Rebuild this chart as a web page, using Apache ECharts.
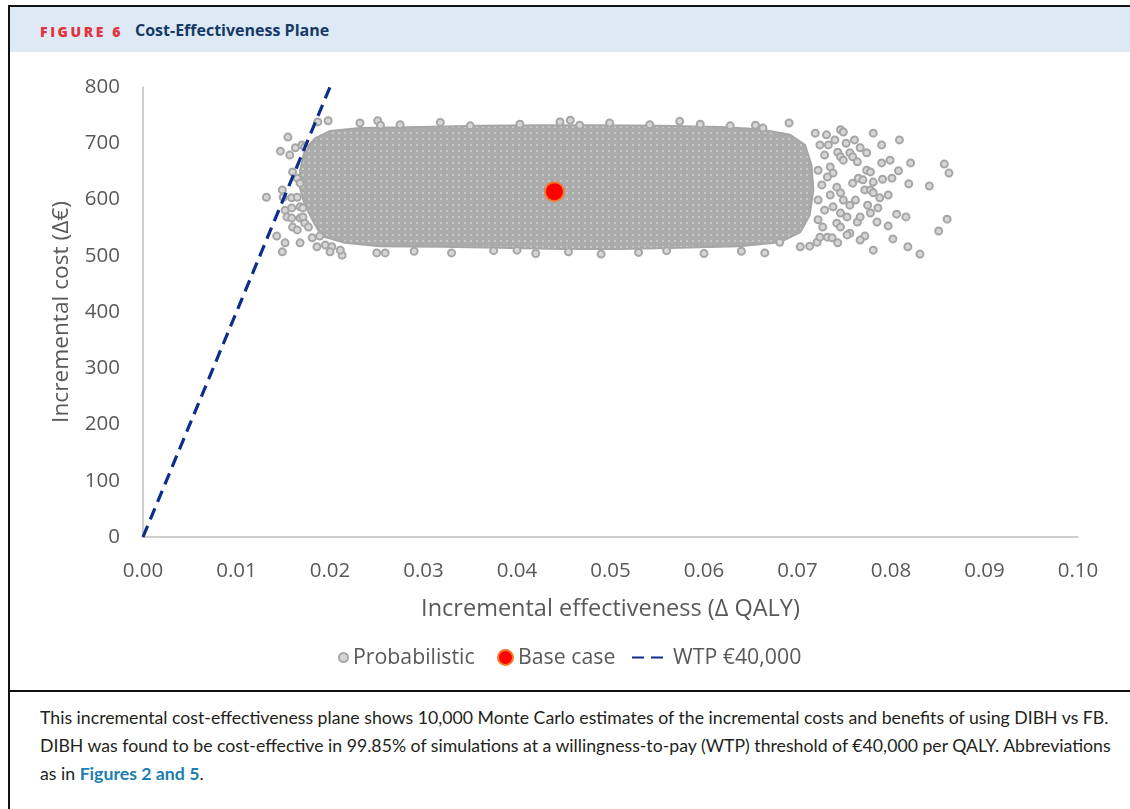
<!DOCTYPE html>
<html>
<head>
<meta charset="utf-8">
<script src="https://cdn.jsdelivr.net/npm/echarts@6/dist/echarts.min.js"></script>
<style>
  body { margin: 0; width: 1130px; height: 809px; background: #fff; position: relative; overflow: hidden; font-family: 'Open Sans', sans-serif; }
  .vline { position: absolute; left: 8px; top: 5px; width: 2px; height: 804px; background: #111; }
  .hline { position: absolute; left: 8px; width: 1122px; height: 2px; background: #111; }
  #head { position: absolute; left: 10px; top: 7px; width: 1120px; height: 45px; background: #dde9f5; }
  #head .fig { position: absolute; left: 30px; top: 15px; color: #e2343f; font-weight: 800; font-size: 14px; letter-spacing: 2.6px; }
  #head .ttl { position: absolute; left: 125px; top: 12px; color: #163a66; font-weight: 700; font-size: 16px; }
  #chart { position: absolute; left: 0; top: 52px; width: 1130px; height: 638px; }
  #caption { position: absolute; left: 40px; top: 704px; width: 1085px; white-space: nowrap; font-family: 'Lato', sans-serif; font-size: 17.7px; line-height: 28px; color: #231f20; }
  #caption b { color: #1b7db3; }
</style>
</head>
<body>
<div class="vline"></div>
<div class="hline" style="top:5px"></div>
<div id="head"><span class="fig">FIGURE 6</span><span class="ttl">Cost-Effectiveness Plane</span></div>
<div id="chart"></div>
<div class="hline" style="top:690px"></div>
<div id="caption">This incremental cost-effectiveness plane shows 10,000 Monte Carlo estimates of the incremental costs and benefits of using DIBH vs FB.<br>DIBH was found to be cost-effective in 99.85% of simulations at a willingness-to-pay (WTP) threshold of €40,000 per QALY. Abbreviations<br>as in <b>Figures 2 and 5</b>.</div>
<script>
// outline of the dense part of the cloud (ΔQALY, Δ€)
var coreOutline = [
  [0.0168, 652], [0.0173, 688], [0.0184, 709], [0.0200, 722], [0.0232, 727],
  [0.0296, 729], [0.0360, 731], [0.0425, 732], [0.0489, 732], [0.0553, 731],
  [0.0617, 729], [0.0660, 725], [0.0692, 715], [0.0708, 697], [0.0715, 661],
  [0.0717, 617], [0.0713, 572], [0.0703, 542], [0.0681, 524], [0.0638, 517],
  [0.0574, 514], [0.0510, 512], [0.0446, 512], [0.0382, 514], [0.0318, 516],
  [0.0253, 517], [0.0216, 523], [0.0191, 535], [0.0184, 555], [0.0173, 590],
  [0.0168, 620]
];

// simulations outside the dense core
var looseLeft = [
  [0.0155, 711], [0.0147, 686], [0.0157, 679], [0.0163, 692], [0.0170, 697],
  [0.0173, 693], [0.0187, 738], [0.0198, 740], [0.0132, 604], [0.0149, 617],
  [0.0150, 604], [0.0159, 603], [0.0165, 604], [0.0152, 581], [0.0159, 585],
  [0.0168, 587], [0.0171, 585], [0.0154, 569], [0.0159, 567], [0.0168, 567],
  [0.0171, 569], [0.0160, 551], [0.0165, 546], [0.0173, 558], [0.0177, 551],
  [0.0143, 535], [0.0181, 532], [0.0189, 535], [0.0152, 523], [0.0168, 523],
  [0.0149, 507], [0.0186, 516], [0.0195, 519], [0.0202, 516], [0.0213, 501],
  [0.0211, 510], [0.0232, 736], [0.0251, 740], [0.0254, 732], [0.0200, 507],
  [0.0250, 505], [0.0259, 505], [0.0160, 649], [0.0165, 638], [0.0168, 629]
];
var looseEdge = [
  [0.0275, 733], [0.0318, 737], [0.0350, 731], [0.0403, 734], [0.0446, 738],
  [0.0457, 741], [0.0467, 732], [0.0499, 736], [0.0542, 733], [0.0574, 739],
  [0.0596, 734], [0.0628, 731], [0.0290, 508], [0.0330, 505], [0.0375, 509],
  [0.0400, 510], [0.0420, 504], [0.0455, 507], [0.0490, 503], [0.0530, 506],
  [0.0560, 509], [0.0600, 504], [0.0640, 508], [0.0665, 505]
];
var looseRight = [
  [0.0781, 718], [0.0809, 706], [0.0790, 665], [0.0808, 651], [0.0821, 665],
  [0.0857, 663], [0.0862, 647], [0.0819, 628], [0.0841, 624], [0.0791, 636],
  [0.0801, 638], [0.0806, 574], [0.0816, 569], [0.0797, 553], [0.0860, 565],
  [0.0851, 544], [0.0802, 530], [0.0818, 516], [0.0831, 503], [0.0781, 510],
  [0.0772, 535], [0.0785, 560], [0.0788, 603], [0.0781, 631], [0.0774, 683],
  [0.0746, 724], [0.0749, 720], [0.0752, 700], [0.0719, 718], [0.0731, 715],
  [0.0691, 736], [0.0655, 732], [0.0663, 727], [0.0681, 524], [0.0703, 516],
  [0.0713, 517], [0.0721, 524], [0.0743, 523], [0.0732, 533], [0.0737, 532],
  [0.0756, 540], [0.0753, 537], [0.0764, 560], [0.0767, 569], [0.0775, 590],
  [0.0778, 576], [0.0786, 585], [0.0772, 617], [0.0778, 617], [0.0781, 612],
  [0.0759, 629], [0.0765, 638], [0.0770, 635], [0.0756, 683], [0.0759, 676],
  [0.0764, 667], [0.0774, 652], [0.0778, 649], [0.0743, 684], [0.0746, 676],
  [0.0749, 670], [0.0735, 658], [0.0738, 647], [0.0732, 640], [0.0742, 622],
  [0.0746, 612], [0.0749, 599], [0.0738, 587], [0.0746, 576], [0.0753, 569],
  [0.0742, 558], [0.0746, 551], [0.0727, 551], [0.0724, 533], [0.0724, 697],
  [0.0729, 679], [0.0722, 652], [0.0726, 626], [0.0722, 599], [0.0729, 581],
  [0.0722, 564], [0.0735, 608], [0.0733, 697], [0.0740, 706], [0.0761, 706],
  [0.0767, 692], [0.0762, 599], [0.0756, 590], [0.0767, 528], [0.0790, 697],
  [0.0797, 608], [0.0799, 670]
];
var baseCase = [[0.0440, 614]];
var wtpLine = [[0, 0], [0.02, 800]];

var xTicks = ['0.00', '0.01', '0.02', '0.03', '0.04', '0.05', '0.06', '0.07', '0.08', '0.09', '0.10'];

// texture for the dense cloud, small grey rings
var tile = document.createElement('canvas');
tile.width = 6; tile.height = 6;
var tctx = tile.getContext('2d');
tctx.fillStyle = '#ababab';
tctx.fillRect(0, 0, 6, 6);
tctx.fillStyle = '#cfcfcf';
tctx.beginPath(); tctx.arc(3, 3, 1.1, 0, Math.PI * 2); tctx.fill();

var grey = '#595959';
var chart = echarts.init(document.getElementById('chart'));
chart.setOption({
  animation: false,
  textStyle: { fontFamily: 'Open Sans' },
  grid: { left: 143, right: 52, top: 35, bottom: 153 },
  xAxis: {
    type: 'value', min: 0, max: 0.1, interval: 0.01,
    name: 'Incremental effectiveness (Δ QALY)', nameLocation: 'middle', nameGap: 60,
    nameTextStyle: { color: grey, fontSize: 23.5 },
    axisLine: { lineStyle: { color: '#bfbfbf', width: 1.5 } },
    axisTick: { show: false },
    splitLine: { show: false },
    axisLabel: { color: grey, fontSize: 20.5, margin: 24, formatter: function (v) { return xTicks[Math.round(v * 100)]; } }
  },
  yAxis: {
    type: 'value', min: 0, max: 800, interval: 100,
    name: 'Incremental cost (Δ€)', nameLocation: 'middle', nameGap: 70,
    nameTextStyle: { color: grey, fontSize: 22.7 },
    axisLine: { show: true, lineStyle: { color: '#bfbfbf', width: 1.5 } },
    axisTick: { show: false },
    splitLine: { show: false },
    axisLabel: { color: grey, fontSize: 20.5, margin: 23 }
  },
  legend: [
    { data: ['Probabilistic'], left: 333, top: 590, itemWidth: 9, itemHeight: 9,
      textStyle: { color: grey, fontSize: 21.3 } },
    { data: ['Base case'], left: 492, top: 590, itemWidth: 15, itemHeight: 15,
      textStyle: { color: grey, fontSize: 21.3 } },
    { data: [{ name: 'WTP €40,000', itemStyle: { opacity: 0 } }], left: 626, top: 590, itemWidth: 36, itemHeight: 14,
      textStyle: { color: grey, fontSize: 21.3 } }
  ],
  series: [
    {
      type: 'custom', name: 'core', silent: true, z: 1,
      data: coreOutline,
      renderItem: function (params, api) {
        if (params.dataIndex !== 0) return null;
        return {
          type: 'polygon',
          shape: { points: coreOutline.map(function (p) { return api.coord(p); }) },
          style: { fill: { image: tile, repeat: 'repeat' }, stroke: '#a6a6a6', lineWidth: 2 }
        };
      }
    },
    {
      type: 'scatter', name: 'Probabilistic', z: 2,
      data: looseLeft.concat(looseEdge, looseRight),
      symbol: 'circle', symbolSize: 7,
      itemStyle: { color: '#d6d6d6', borderColor: '#a6a6a6', borderWidth: 2, opacity: 1 }
    },
    {
      type: 'scatter', name: 'Base case', z: 3,
      data: baseCase, symbol: 'circle', symbolSize: 19,
      itemStyle: { color: '#ff0000', borderColor: '#f47a2a', borderWidth: 2, opacity: 1 }
    },
    {
      type: 'line', name: 'WTP €40,000', z: 4,
      data: wtpLine, showSymbol: false, symbol: 'none',
      itemStyle: { color: '#0c2d8c' },
      lineStyle: { color: '#0c2d8c', width: 3.2, type: [12, 7] }
    }
  ]
});
</script>
</body>
</html>
